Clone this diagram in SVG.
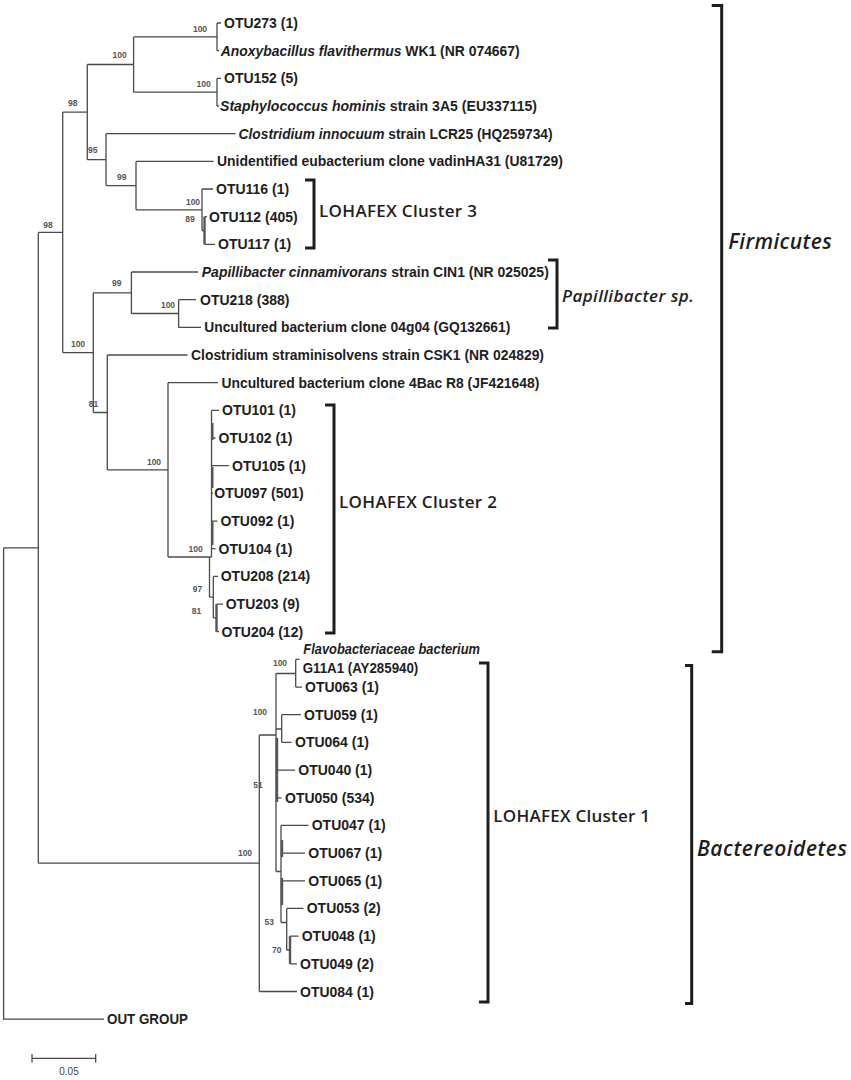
<svg xmlns="http://www.w3.org/2000/svg" width="851" height="1080" viewBox="0 0 851 1080">
<style>
.br{fill:none;stroke:#4a4a4a;stroke-width:1.3}
.thk{fill:none;stroke:#555;stroke-width:2.4}
.lf{font-family:"Liberation Sans",Arial,sans-serif;font-weight:bold;font-size:14px;fill:#1e1e1e;dominant-baseline:central}
.it{font-style:italic}
.bs{font-family:"Liberation Sans",Arial,sans-serif;font-weight:bold;font-size:8.5px;fill:#555;text-anchor:middle;dominant-baseline:central}
.bk{fill:none;stroke:#1e1e1e;stroke-width:3}
.cl{font-family:"Open Sans","Liberation Sans",sans-serif;font-weight:600;font-size:17px;fill:#1e1e1e;dominant-baseline:central}
.ph{font-family:"Open Sans","Liberation Sans",sans-serif;font-weight:600;font-style:italic;font-size:21px;fill:#1e1e1e;dominant-baseline:central}
.sc{font-family:"Liberation Sans",Arial,sans-serif;font-size:10px;fill:#444;text-anchor:middle;dominant-baseline:central}
</style>
<rect width="851" height="1080" fill="#ffffff"/>
<g id="connectors">
<path class="br" d="M133.6,36.9H217M217,23V50.7M217,23H221M217,50.7H219"/>
<path class="br" d="M133.6,92.2H217M217,78.3V106M217,78.3H221M217,106H219"/>
<path class="br" d="M87.3,64.5H133.6M133.6,36.9V92.2"/>
<path class="br" d="M62.7,112.1H87.3M87.3,64.5V159.7"/>
<path class="br" d="M87.3,159.7H106M106,133.7V185.6M106,133.7H235.7"/>
<path class="br" d="M106,185.6H136M136,161.4V209.8M136,161.4H213.6"/>
<path class="br" d="M136,209.8H202M202,189V230.5M202,189H213M202,230.5H204.5"/>
<path class="thk" d="M204.5,216.7V244.4"/>
<path class="br" d="M204.5,216.7H207M204.5,244.4H215"/>
<path class="br" d="M38.3,232.4H62.7M62.7,112.1V352.6"/>
<path class="br" d="M62.7,352.6H93.3M93.3,292.8V412.5"/>
<path class="br" d="M93.3,292.8H131.4M131.4,272V313.5M131.4,272H198"/>
<path class="br" d="M131.4,313.5H178.6M178.6,299.7V327.4M178.6,299.7H196M178.6,327.4H201"/>
<path class="br" d="M93.3,412.5H107.3M107.3,355V469.9M107.3,355H187.5"/>
<path class="br" d="M107.3,469.9H168M168,382.7V557M168,382.7H218"/>
<path class="br" d="M168,557H211.5M211.5,410.4V557M209.5,557V597.2"/>
<path class="br" d="M211.5,410.4H219M211.5,438H215.5M211.5,465.7H229M211.5,493.4H213M211.5,521.1H217.5M211.5,548.7H215.5"/>
<path class="thk" d="M212.3,423V440M212.3,467V488M212.3,522V545"/>
<path class="br" d="M209.5,597.2H213.3M213.3,576.4V617.9M213.3,576.4H218"/>
<path class="thk" d="M216.5,604.1V631.7"/>
<path class="br" d="M213.3,617.9H216.5M216.5,604.1H223M216.5,631.7H219"/>
<path class="br" d="M3.6,547.8H38.3M38.3,232.4V863.2"/>
<path class="br" d="M3.6,547.8V1019.1H104"/>
<path class="br" d="M38.3,863.2H259.3M259.3,735V991.5M259.3,991.5H297"/>
<path class="br" d="M259.3,735H276M276,673.5V871.5"/>
<path class="thk" d="M277,738V802"/>
<path class="br" d="M276,673.5H295.7M295.7,659.4V687.1M295.7,659.4H299.5M295.7,687.1H302"/>
<path class="br" d="M276,729H281.7M281.7,714.7V742.4M281.7,714.7H301M281.7,742.4H291.5"/>
<path class="br" d="M276,770.1H295M276,797.8H281.5"/>
<path class="br" d="M276,871.5H281M281,825.4V922.5M281,825.4H308.5M281,853.1H305M281,880.8H305"/>
<path class="thk" d="M282,840V857M282,878V905"/>
<path class="br" d="M281,922.5H286.7M286.7,908.4V950M286.7,908.4H303.5"/>
<path class="thk" d="M290,936.1V963.8"/>
<path class="br" d="M286.7,950H290M290,936.1H298.5M290,963.8H297"/>
</g>
<g id="bootstrap">
<text class="bs" x="200" y="29">100</text>
<text class="bs" x="203.6" y="84">100</text>
<text class="bs" x="119.6" y="55">100</text>
<text class="bs" x="72.7" y="103">98</text>
<text class="bs" x="92.7" y="150">95</text>
<text class="bs" x="121.7" y="177">99</text>
<text class="bs" x="193" y="201.7">100</text>
<text class="bs" x="190" y="219">89</text>
<text class="bs" x="48" y="225">98</text>
<text class="bs" x="116.7" y="283">99</text>
<text class="bs" x="168" y="305">100</text>
<text class="bs" x="78" y="344">100</text>
<text class="bs" x="93.6" y="404">81</text>
<text class="bs" x="154" y="461.7">100</text>
<text class="bs" x="195.7" y="549">100</text>
<text class="bs" x="197.5" y="589">97</text>
<text class="bs" x="196.4" y="610.7">81</text>
<text class="bs" x="280" y="662.7">100</text>
<text class="bs" x="260" y="711.7">100</text>
<text class="bs" x="258" y="785">51</text>
<text class="bs" x="245" y="853">100</text>
<text class="bs" x="269.3" y="921.7">53</text>
<text class="bs" x="276.7" y="950">70</text>
</g>
<g id="leaf-OTU273"><text class="lf" x="224" y="23">OTU273 (1)</text></g>
<g id="leaf-Anoxybacillus"><text class="lf" x="220.7" y="50.7" textLength="299" lengthAdjust="spacingAndGlyphs"><tspan class="it">Anoxybacillus flavithermus</tspan> WK1 (NR 074667)</text></g>
<g id="leaf-OTU152"><text class="lf" x="224" y="78.3">OTU152 (5)</text></g>
<g id="leaf-Staphylococcus"><text class="lf" x="220" y="106" textLength="317" lengthAdjust="spacingAndGlyphs"><tspan class="it">Staphylococcus hominis</tspan> strain 3A5 (EU337115)</text></g>
<g id="leaf-Clostridium-innocuum"><text class="lf" x="238.6" y="133.7" textLength="314" lengthAdjust="spacingAndGlyphs"><tspan class="it">Clostridium innocuum</tspan> strain LCR25 (HQ259734)</text></g>
<g id="leaf-Unidentified"><text class="lf" x="217" y="161.4" textLength="346" lengthAdjust="spacingAndGlyphs">Unidentified eubacterium clone vadinHA31 (U81729)</text></g>
<g id="leaf-OTU116"><text class="lf" x="216" y="189">OTU116 (1)</text></g>
<g id="leaf-OTU112"><text class="lf" x="209" y="216.7">OTU112 (405)</text></g>
<g id="leaf-OTU117"><text class="lf" x="218" y="244.4">OTU117 (1)</text></g>
<g id="leaf-Papillibacter"><text class="lf" x="201.8" y="272" textLength="347" lengthAdjust="spacingAndGlyphs"><tspan class="it">Papillibacter cinnamivorans</tspan> strain CIN1 (NR 025025)</text></g>
<g id="leaf-OTU218"><text class="lf" x="200" y="299.7">OTU218 (388)</text></g>
<g id="leaf-04g04"><text class="lf" x="204.3" y="327.4" textLength="306" lengthAdjust="spacingAndGlyphs">Uncultured bacterium clone 04g04 (GQ132661)</text></g>
<g id="leaf-Clostridium-straminisolvens"><text class="lf" x="191" y="355" textLength="353" lengthAdjust="spacingAndGlyphs">Clostridium straminisolvens strain CSK1 (NR 024829)</text></g>
<g id="leaf-4BacR8"><text class="lf" x="221.4" y="382.7" textLength="318" lengthAdjust="spacingAndGlyphs">Uncultured bacterium clone 4Bac R8 (JF421648)</text></g>
<g id="leaf-OTU101"><text class="lf" x="222" y="410.4">OTU101 (1)</text></g>
<g id="leaf-OTU102"><text class="lf" x="218.6" y="438">OTU102 (1)</text></g>
<g id="leaf-OTU105"><text class="lf" x="232" y="465.7">OTU105 (1)</text></g>
<g id="leaf-OTU097"><text class="lf" x="214.3" y="493.4">OTU097 (501)</text></g>
<g id="leaf-OTU092"><text class="lf" x="220.4" y="521.1">OTU092 (1)</text></g>
<g id="leaf-OTU104"><text class="lf" x="218.6" y="548.7">OTU104 (1)</text></g>
<g id="leaf-OTU208"><text class="lf" x="220.7" y="576.4">OTU208 (214)</text></g>
<g id="leaf-OTU203"><text class="lf" x="225.7" y="604.1">OTU203 (9)</text></g>
<g id="leaf-OTU204"><text class="lf" x="221.4" y="631.7">OTU204 (12)</text></g>
<g id="leaf-Flavobacteriaceae"><text class="lf it" x="303.3" y="649.3" textLength="176.7" lengthAdjust="spacingAndGlyphs">Flavobacteriaceae bacterium</text><text class="lf" x="302.7" y="668.3" textLength="115.6" lengthAdjust="spacingAndGlyphs">G11A1 (AY285940)</text></g>
<g id="leaf-OTU063"><text class="lf" x="305" y="687.1">OTU063 (1)</text></g>
<g id="leaf-OTU059"><text class="lf" x="304" y="714.7">OTU059 (1)</text></g>
<g id="leaf-OTU064"><text class="lf" x="295" y="742.4">OTU064 (1)</text></g>
<g id="leaf-OTU040"><text class="lf" x="298.3" y="770.1">OTU040 (1)</text></g>
<g id="leaf-OTU050"><text class="lf" x="285" y="797.8">OTU050 (534)</text></g>
<g id="leaf-OTU047"><text class="lf" x="311.7" y="825.4">OTU047 (1)</text></g>
<g id="leaf-OTU067"><text class="lf" x="308.3" y="853.1">OTU067 (1)</text></g>
<g id="leaf-OTU065"><text class="lf" x="308.3" y="880.8">OTU065 (1)</text></g>
<g id="leaf-OTU053"><text class="lf" x="306.7" y="908.4">OTU053 (2)</text></g>
<g id="leaf-OTU048"><text class="lf" x="301.7" y="936.1">OTU048 (1)</text></g>
<g id="leaf-OTU049"><text class="lf" x="300" y="963.8">OTU049 (2)</text></g>
<g id="leaf-OTU084"><text class="lf" x="300" y="991.5">OTU084 (1)</text></g>
<g id="leaf-outgroup"><text class="lf" x="107" y="1019.1" textLength="81" lengthAdjust="spacingAndGlyphs">OUT GROUP</text></g>
<g id="bracket-cluster3"><path class="bk" d="M305,180H314V248H305"/><text class="cl" x="319" y="210.7" textLength="158">LOHAFEX Cluster 3</text></g>
<g id="bracket-papillibacter"><path class="bk" d="M548,260H557V328H548"/><text class="cl" x="562" y="295" font-style="italic" textLength="131.7">Papillibacter sp.</text></g>
<g id="bracket-cluster2"><path class="bk" d="M325,405H334V633H325"/><text class="cl" x="339" y="501.7" textLength="158">LOHAFEX Cluster 2</text></g>
<g id="bracket-cluster1"><path class="bk" d="M479,663H488V1002H479"/><text class="cl" x="493.3" y="815" textLength="156.7">LOHAFEX Cluster 1</text></g>
<g id="bracket-firmicutes"><path class="bk" d="M711.7,5.5H721.7V651.7H711.7"/><text class="ph" x="728.3" y="241.4" textLength="103.4">Firmicutes</text></g>
<g id="bracket-bacteroidetes"><path class="bk" d="M685,665.5H691.7V1003.4H685"/><text class="ph" x="697" y="848.3" textLength="150">Bactereoidetes</text></g>
<g id="scale-bar"><path class="br" d="M32,1058.3H95.7M32,1054V1062.5M95.7,1054V1062.5"/><text class="sc" x="69" y="1071">0.05</text></g>
</svg>
